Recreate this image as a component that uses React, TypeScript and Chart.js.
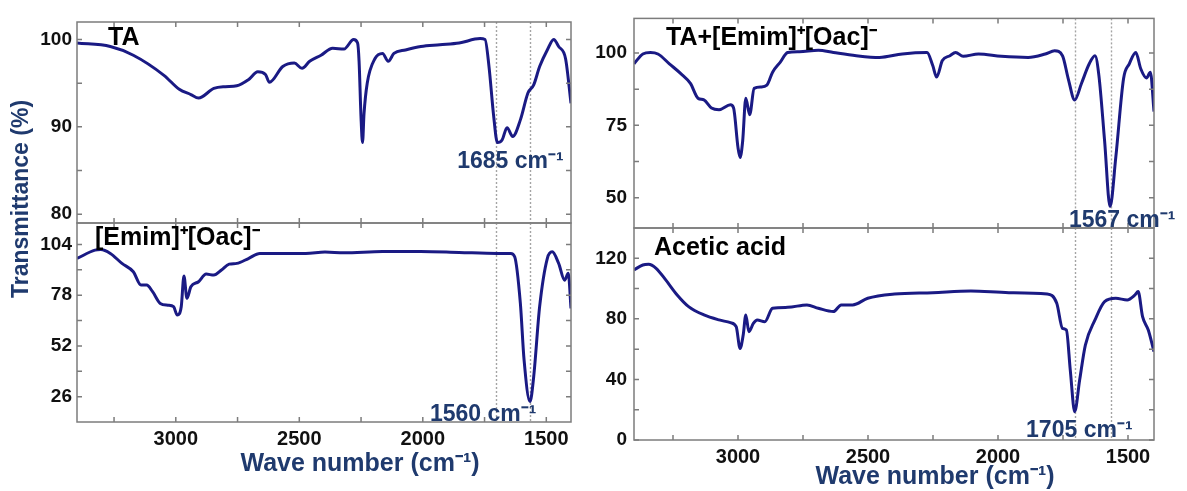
import React, { useEffect, useRef } from 'react';
import { Chart, registerables } from 'chart.js';

Chart.register(...registerables);

const FONT = '"Liberation Sans", Arial, Helvetica, sans-serif';
const LINE_COLOR = '#1a1a84';
const TITLE_COLOR = '#1f3a6e';
const TICK_COLOR = '#111111';
const FRAME_COLOR = '#7c7c7c';

// ---------------- data ----------------
// x axis (wave number, cm-1)
const xTickValues = [3250, 3000, 2750, 2500, 2250, 2000, 1750, 1500];
const xLabelValues = [3000, 2500, 2000, 1500];
const markerWn = [1705, 1567];

// TA
const taWn = [3400, 3265, 3172, 3048, 2986, 2939, 2908, 2846, 2800, 2753, 2706, 2668, 2637, 2621, 2567, 2520, 2489, 2458, 2412, 2365, 2319, 2280, 2264, 2258, 2250, 2244, 2238, 2225, 2194, 2163, 2140, 2117, 2070, 2008, 1931, 1853, 1768, 1748, 1732, 1713, 1698, 1679, 1659, 1636, 1605, 1574, 1551, 1527, 1496, 1470, 1450, 1422, 1400];
const taT = [99.6, 99.2, 98.2, 95.9, 94.3, 93.7, 93.3, 94.4, 94.6, 94.7, 95.4, 96.3, 96.0, 95.1, 96.9, 97.3, 96.7, 97.5, 98.2, 99.0, 98.9, 100.0, 99.6, 97.5, 91.0, 88.2, 91.5, 95.0, 97.8, 98.4, 97.5, 98.4, 98.8, 99.2, 99.4, 99.6, 100.1, 100.0, 96.9, 91.2, 88.2, 88.5, 89.9, 88.9, 90.8, 93.9, 94.8, 96.9, 98.8, 100.0, 99.2, 97.8, 92.7];
const taTicks = [80, 85, 90, 95, 100];
const taLabels = [80, 90, 100];

// [Emim]+[Oac]-
const emWn = [3400, 3327, 3304, 3265, 3218, 3172, 3141, 3118, 3094, 3063, 3032, 3009, 2994, 2978, 2967, 2955, 2939, 2908, 2877, 2846, 2815, 2784, 2753, 2706, 2660, 2598, 2474, 2396, 2319, 2163, 2008, 1853, 1698, 1644, 1628, 1605, 1590, 1566, 1551, 1527, 1496, 1476, 1450, 1426, 1411, 1400];
const emT = [96.8, 101.1, 101.4, 99.4, 94.3, 90.0, 83.2, 83.2, 79.8, 73.8, 72.9, 72.1, 67.8, 72.1, 87.8, 76.4, 82.3, 84.9, 88.8, 88.3, 90.9, 93.9, 94.3, 96.8, 99.4, 99.4, 99.4, 100.1, 99.7, 100.4, 100.4, 99.9, 99.4, 99.4, 97.7, 73.8, 44.8, 23.5, 36.3, 72.1, 96.8, 100.2, 94.3, 85.7, 89.2, 71.2];
const emTicks = [26, 39, 52, 65, 78, 91, 104];
const emLabels = [26, 52, 78, 104];

// TA+[Emim]+[Oac]-
const tpWn = [3400, 3366, 3337, 3308, 3264, 3220, 3183, 3154, 3131, 3102, 3073, 3029, 3017, 3000, 2992, 2982, 2970, 2955, 2938, 2911, 2889, 2867, 2838, 2809, 2764, 2691, 2633, 2545, 2456, 2368, 2273, 2251, 2236, 2214, 2185, 2163, 2134, 2075, 1987, 1884, 1818, 1782, 1752, 1730, 1705, 1679, 1649, 1627, 1612, 1590, 1569, 1547, 1517, 1495, 1470, 1451, 1429, 1414, 1400];
const tpT = [96.3, 99.7, 100.2, 99.7, 96.3, 92.9, 89.5, 84.4, 83.8, 81.0, 80.4, 82.1, 81.0, 67.3, 63.9, 69.6, 84.4, 78.7, 87.8, 88.3, 88.9, 93.4, 96.8, 100.2, 100.5, 101.0, 100.2, 99.1, 98.5, 99.7, 100.2, 95.7, 91.7, 97.4, 99.1, 100.2, 98.9, 99.7, 98.9, 98.5, 99.7, 100.8, 99.1, 91.2, 83.8, 89.5, 96.3, 99.1, 92.3, 69.6, 46.9, 63.9, 91.2, 96.3, 100.2, 94.6, 91.4, 93.4, 79.8];
const tpTicks = [50, 62.5, 75, 87.5, 100];
const tpLabels = [50, 75, 100];

// Acetic acid
const acWn = [3400, 3366, 3344, 3315, 3278, 3234, 3190, 3131, 3073, 3029, 3007, 2992, 2980, 2970, 2958, 2941, 2926, 2897, 2867, 2809, 2735, 2691, 2633, 2603, 2559, 2501, 2398, 2251, 2104, 1958, 1811, 1774, 1752, 1737, 1722, 1705, 1686, 1664, 1627, 1590, 1547, 1503, 1473, 1461, 1444, 1422, 1400];
const acT = [112.3, 115.6, 116.0, 113.4, 105.7, 95.8, 88.1, 82.6, 79.3, 77.5, 74.8, 60.5, 69.3, 82.6, 71.5, 77.0, 79.3, 78.1, 87.0, 87.6, 89.2, 87.0, 84.8, 89.2, 89.2, 93.6, 96.4, 97.3, 98.4, 97.3, 96.4, 90.3, 73.7, 72.6, 46.2, 18.7, 39.6, 62.7, 79.3, 91.4, 93.6, 92.5, 95.8, 98.0, 81.5, 72.6, 58.3];
const acTicks = [0, 20, 40, 60, 80, 100, 120];
const acLabels = [0, 40, 80, 120];

// ---------------- panels ----------------
const panels = [
  {
    id: 'ta', wn: taWn, vals: taT, yMin: 79, yMax: 102, yTicks: taTicks, yLabels: taLabels,
    area: { left: 77, top: 22, right: 571, bottom: 223 }, xLabels: false, yPad: 5,
    label: { text: 'TA', dx: 31, dy: 23 },
    note: { text: '1685 cm\u207B\u00B9', wn: 1861, val: 85.3 },
    yTitle: { text: 'Transmittance (%)', dx: -55, dy: -24 },
  },
  {
    id: 'em', wn: emWn, vals: emT, yMin: 13, yMax: 115, yTicks: emTicks, yLabels: emLabels,
    area: { left: 77, top: 223, right: 571, bottom: 422 }, xLabels: true, yPad: 5,
    label: { text: '[Emim]\u207A[Oac]\u207B', dx: 18, dy: 22 },
    note: { text: '1560 cm\u207B\u00B9', wn: 1971, val: 13.5 },
    xTitle: { text: 'Wave number (cm\u207B\u00B9)', dx: 36, dy: 42 },
  },
  {
    id: 'tp', wn: tpWn, vals: tpT, yMin: 39.5, yMax: 112, yTicks: tpTicks, yLabels: tpLabels,
    area: { left: 634, top: 15, right: 1154, bottom: 228 }, xLabels: false, yPad: 7,
    label: { text: 'TA+[Emim]\u207A[Oac]\u207B', dx: 32, dy: 27 },
    note: { text: '1567 cm\u207B\u00B9', wn: 1727, val: 39.8 },
  },
  {
    id: 'ac', wn: acWn, vals: acT, yMin: 0, yMax: 140, yTicks: acTicks, yLabels: acLabels,
    area: { left: 634, top: 228, right: 1154, bottom: 440 }, xLabels: true, yPad: 7,
    label: { text: 'Acetic acid', dx: 20, dy: 27 },
    note: { text: '1705 cm\u207B\u00B9', wn: 1892, val: 2 },
    xTitle: { text: 'Wave number (cm\u207B\u00B9)', dx: 41, dy: 37 },
  },
];

const W = 1187;
const H = 491;
const Y_AXIS_W = 70;
const MIRROR = 12;

const decoPlugin = {
  id: 'deco',
  beforeDatasetsDraw(chart: any, _a: any, opts: any) {
    const { ctx, chartArea: a } = chart;
    const x = chart.scales.x;
    ctx.save();
    ctx.strokeStyle = '#a4a4a4';
    ctx.lineWidth = 1.4;
    ctx.setLineDash([2, 2]);
    for (const wn of opts.markers) {
      const px = Math.round(x.getPixelForValue(wn)) + 0.5;
      ctx.beginPath();
      ctx.moveTo(px, a.top);
      ctx.lineTo(px, a.bottom);
      ctx.stroke();
    }
    ctx.restore();
  },
  afterDraw(chart: any, _a: any, opts: any) {
    const { ctx, chartArea: a } = chart;
    const x = chart.scales.x;
    const y = chart.scales.y;
    ctx.save();
    ctx.strokeStyle = FRAME_COLOR;
    ctx.lineWidth = 1.5;
    ctx.strokeRect(a.left, a.top, a.right - a.left, a.bottom - a.top);
    const tl = 5;
    ctx.beginPath();
    for (const t of x.ticks) {
      const px = x.getPixelForValue(t.value);
      ctx.moveTo(px, a.top);
      ctx.lineTo(px, a.top + tl);
      ctx.moveTo(px, a.bottom);
      ctx.lineTo(px, a.bottom - tl);
    }
    for (const t of y.ticks) {
      const py = y.getPixelForValue(t.value);
      ctx.moveTo(a.left, py);
      ctx.lineTo(a.left + tl, py);
      ctx.moveTo(a.right, py);
      ctx.lineTo(a.right - tl, py);
    }
    ctx.stroke();

    // panel label
    if (opts.label) {
      ctx.font = `bold 25px ${FONT}`;
      ctx.fillStyle = '#000';
      ctx.textAlign = 'left';
      ctx.textBaseline = 'alphabetic';
      ctx.fillText(opts.label.text, a.left + opts.label.dx, a.top + opts.label.dy);
    }
    // peak annotation
    if (opts.note) {
      ctx.font = `bold 23px ${FONT}`;
      ctx.fillStyle = TITLE_COLOR;
      ctx.textAlign = 'left';
      ctx.textBaseline = 'alphabetic';
      ctx.fillText(opts.note.text, x.getPixelForValue(opts.note.wn), y.getPixelForValue(opts.note.val));
    }
    // x title
    if (opts.xTitle) {
      ctx.font = `bold 25px ${FONT}`;
      ctx.fillStyle = TITLE_COLOR;
      ctx.textAlign = 'center';
      ctx.textBaseline = 'middle';
      ctx.fillText(opts.xTitle.text, (a.left + a.right) / 2 + opts.xTitle.dx, a.bottom + opts.xTitle.dy);
    }
    // y title
    if (opts.yTitle) {
      ctx.font = `bold 23px ${FONT}`;
      ctx.fillStyle = TITLE_COLOR;
      ctx.textAlign = 'center';
      ctx.textBaseline = 'middle';
      ctx.translate(a.left + opts.yTitle.dx, a.bottom + opts.yTitle.dy);
      ctx.rotate(-Math.PI / 2);
      ctx.fillText(opts.yTitle.text, 0, 0);
    }
    ctx.restore();
  },
};

function PanelChart({ p }: { p: any }) {
  const ref = useRef<HTMLCanvasElement | null>(null);
  useEffect(() => {
    if (!ref.current) return;
    const xh = p.xLabels ? 60 : MIRROR;
    const chart = new Chart(ref.current, {
      type: 'line',
      data: {
        datasets: [
          {
            data: p.wn.map((w: number, i: number) => ({ x: w, y: p.vals[i] })),
            borderColor: LINE_COLOR,
            borderWidth: 3,
            pointRadius: 0,
            fill: false,
            cubicInterpolationMode: 'monotone',
          },
        ],
      },
      options: {
        responsive: false,
        animation: false,
        devicePixelRatio: 1,
        layout: {
          padding: {
            left: p.area.left - Y_AXIS_W,
            top: p.area.top - MIRROR,
            right: W - p.area.right - MIRROR,
            bottom: H - p.area.bottom - xh,
          },
        },
        plugins: {
          legend: { display: false },
          tooltip: { enabled: false },
          deco: { markers: markerWn, label: p.label, note: p.note, xTitle: p.xTitle, yTitle: p.yTitle },
        } as any,
        scales: {
          x: {
            type: 'linear',
            position: 'bottom',
            min: 1400,
            max: 3400,
            reverse: true,
            afterBuildTicks: (s: any) => { s.ticks = xTickValues.map((v) => ({ value: v })); },
            afterFit: (s: any) => { s.height = xh; },
            grid: { display: false, drawTicks: false },
            border: { display: false },
            ticks: {
              display: p.xLabels,
              autoSkip: false,
              maxRotation: 0,
              padding: 5,
              color: TICK_COLOR,
              font: { family: FONT, size: 20, weight: 'bold' },
              callback: (v: any) => (xLabelValues.includes(Number(v)) ? String(v) : ''),
            },
          },
          xTop: {
            type: 'linear',
            position: 'top',
            min: 1400,
            max: 3400,
            reverse: true,
            afterFit: (s: any) => { s.height = MIRROR; },
            grid: { display: false, drawTicks: false },
            border: { display: false },
            ticks: { display: false },
          },
          y: {
            type: 'linear',
            position: 'left',
            min: p.yMin,
            max: p.yMax,
            afterBuildTicks: (s: any) => { s.ticks = p.yTicks.map((v: number) => ({ value: v })); },
            afterFit: (s: any) => { s.width = Y_AXIS_W; },
            grid: { display: false, drawTicks: false },
            border: { display: false },
            ticks: {
              autoSkip: false,
              padding: p.yPad,
              color: TICK_COLOR,
              font: { family: FONT, size: 19, weight: 'bold' },
              callback: (v: any) => (p.yLabels.includes(Number(v)) ? String(v) : ''),
            },
          },
          yRight: {
            type: 'linear',
            position: 'right',
            min: p.yMin,
            max: p.yMax,
            afterFit: (s: any) => { s.width = MIRROR; },
            grid: { display: false, drawTicks: false },
            border: { display: false },
            ticks: { display: false },
          },
        },
      } as any,
      plugins: [decoPlugin as any],
    });
    return () => chart.destroy();
  }, [p]);
  return (
    <canvas
      ref={ref}
      width={W}
      height={H}
      style={{ position: 'absolute', left: 0, top: 0, width: W, height: H }}
    />
  );
}

export default function App() {
  return (
    <div style={{ position: 'fixed', left: 0, top: 0, width: W, height: H, background: '#ffffff', overflow: 'hidden' }}>
      {panels.map((p) => (
        <PanelChart key={p.id} p={p} />
      ))}
    </div>
  );
}
